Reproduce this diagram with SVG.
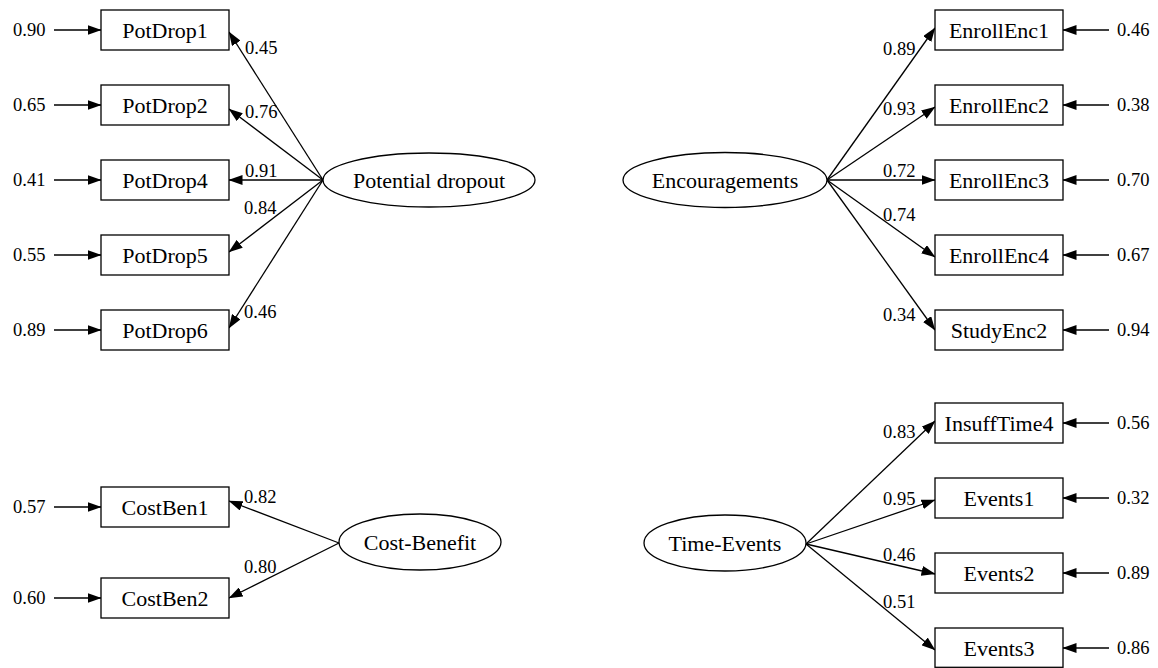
<svg xmlns="http://www.w3.org/2000/svg" width="1158" height="668" viewBox="0 0 1158 668">
<style>
.box{fill:#fff;stroke:#000;stroke-width:1.3}
.ell{fill:#fff;stroke:#000;stroke-width:1.3}
.lbl{font-family:"Liberation Serif","Times New Roman",serif;font-size:22px;fill:#000;text-anchor:middle}
.num{font-family:"Liberation Serif","Times New Roman",serif;font-size:18.5px;fill:#000}
.edge{stroke:#000;stroke-width:1.3;fill:none;marker-end:url(#ah)}
</style>
<defs>
<marker id="ah" markerUnits="userSpaceOnUse" markerWidth="14" markerHeight="10" refX="13.5" refY="5" orient="auto">
<path d="M0,0 L14,5 L0,10 z" fill="#000"/>
</marker>
</defs>
<rect width="1158" height="668" fill="#fff"/>
<g id="connectors">
<line class="edge" x1="323" y1="180" x2="229" y2="32"/>
<line class="edge" x1="323" y1="180" x2="229" y2="109"/>
<line class="edge" x1="323" y1="180" x2="229" y2="180"/>
<line class="edge" x1="323" y1="180" x2="229" y2="252"/>
<line class="edge" x1="323" y1="180" x2="229" y2="328"/>
<line class="edge" x1="827" y1="180" x2="935" y2="28"/>
<line class="edge" x1="827" y1="180" x2="935" y2="107"/>
<line class="edge" x1="827" y1="180" x2="935" y2="180"/>
<line class="edge" x1="827" y1="180" x2="935" y2="257"/>
<line class="edge" x1="827" y1="180" x2="935" y2="330"/>
<line class="edge" x1="339" y1="543" x2="229" y2="501"/>
<line class="edge" x1="339" y1="543" x2="229" y2="598"/>
<line class="edge" x1="806" y1="544" x2="935" y2="421"/>
<line class="edge" x1="806" y1="544" x2="935" y2="500"/>
<line class="edge" x1="806" y1="544" x2="935" y2="574"/>
<line class="edge" x1="806" y1="544" x2="935" y2="650"/>
<line class="edge" x1="54" y1="30" x2="101" y2="30"/>
<line class="edge" x1="54" y1="105" x2="101" y2="105"/>
<line class="edge" x1="54" y1="180" x2="101" y2="180"/>
<line class="edge" x1="54" y1="255" x2="101" y2="255"/>
<line class="edge" x1="54" y1="330" x2="101" y2="330"/>
<line class="edge" x1="54" y1="507" x2="101" y2="507"/>
<line class="edge" x1="54" y1="598" x2="101" y2="598"/>
<line class="edge" x1="1109" y1="30" x2="1063" y2="30"/>
<line class="edge" x1="1109" y1="105" x2="1063" y2="105"/>
<line class="edge" x1="1109" y1="180" x2="1063" y2="180"/>
<line class="edge" x1="1109" y1="255" x2="1063" y2="255"/>
<line class="edge" x1="1109" y1="330" x2="1063" y2="330"/>
<line class="edge" x1="1109" y1="423" x2="1063" y2="423"/>
<line class="edge" x1="1109" y1="498" x2="1063" y2="498"/>
<line class="edge" x1="1109" y1="573" x2="1063" y2="573"/>
<line class="edge" x1="1109" y1="648" x2="1063" y2="648"/>
<text class="num" x="245" y="54">0.45</text>
<text class="num" x="245" y="118">0.76</text>
<text class="num" x="245" y="177">0.91</text>
<text class="num" x="244" y="214">0.84</text>
<text class="num" x="244" y="318">0.46</text>
<text class="num" x="244" y="503">0.82</text>
<text class="num" x="244" y="573">0.80</text>
<text class="num" x="883" y="55">0.89</text>
<text class="num" x="883" y="115">0.93</text>
<text class="num" x="883" y="177">0.72</text>
<text class="num" x="883" y="221">0.74</text>
<text class="num" x="883" y="321">0.34</text>
<text class="num" x="883" y="438">0.83</text>
<text class="num" x="883" y="505">0.95</text>
<text class="num" x="883" y="561">0.46</text>
<text class="num" x="883" y="608">0.51</text>
<text class="num" x="13" y="36">0.90</text>
<text class="num" x="13" y="111">0.65</text>
<text class="num" x="13" y="186">0.41</text>
<text class="num" x="13" y="261">0.55</text>
<text class="num" x="13" y="336">0.89</text>
<text class="num" x="13" y="513">0.57</text>
<text class="num" x="13" y="604">0.60</text>
<text class="num" x="1117" y="36">0.46</text>
<text class="num" x="1117" y="111">0.38</text>
<text class="num" x="1117" y="186">0.70</text>
<text class="num" x="1117" y="261">0.67</text>
<text class="num" x="1117" y="336">0.94</text>
<text class="num" x="1117" y="429">0.56</text>
<text class="num" x="1117" y="504">0.32</text>
<text class="num" x="1117" y="579">0.89</text>
<text class="num" x="1117" y="654">0.86</text>
</g>
<g id="PotDrop1"><rect class="box" x="101" y="10" width="128" height="40"/><text class="lbl" x="165" y="37.5">PotDrop1</text></g>
<g id="PotDrop2"><rect class="box" x="101" y="85" width="128" height="40"/><text class="lbl" x="165" y="112.5">PotDrop2</text></g>
<g id="PotDrop4"><rect class="box" x="101" y="160" width="128" height="40"/><text class="lbl" x="165" y="187.5">PotDrop4</text></g>
<g id="PotDrop5"><rect class="box" x="101" y="235" width="128" height="40"/><text class="lbl" x="165" y="262.5">PotDrop5</text></g>
<g id="PotDrop6"><rect class="box" x="101" y="310" width="128" height="40"/><text class="lbl" x="165" y="337.5">PotDrop6</text></g>
<g id="CostBen1"><rect class="box" x="101" y="487" width="128" height="40"/><text class="lbl" x="165" y="514.5">CostBen1</text></g>
<g id="CostBen2"><rect class="box" x="101" y="578" width="128" height="40"/><text class="lbl" x="165" y="605.5">CostBen2</text></g>
<g id="EnrollEnc1"><rect class="box" x="935" y="10" width="128" height="40"/><text class="lbl" x="999" y="37.5">EnrollEnc1</text></g>
<g id="EnrollEnc2"><rect class="box" x="935" y="85" width="128" height="40"/><text class="lbl" x="999" y="112.5">EnrollEnc2</text></g>
<g id="EnrollEnc3"><rect class="box" x="935" y="160" width="128" height="40"/><text class="lbl" x="999" y="187.5">EnrollEnc3</text></g>
<g id="EnrollEnc4"><rect class="box" x="935" y="235" width="128" height="40"/><text class="lbl" x="999" y="262.5">EnrollEnc4</text></g>
<g id="StudyEnc2"><rect class="box" x="935" y="310" width="128" height="40"/><text class="lbl" x="999" y="337.5">StudyEnc2</text></g>
<g id="InsuffTime4"><rect class="box" x="935" y="403" width="128" height="40"/><text class="lbl" x="999" y="430.5">InsuffTime4</text></g>
<g id="Events1"><rect class="box" x="935" y="478" width="128" height="40"/><text class="lbl" x="999" y="505.5">Events1</text></g>
<g id="Events2"><rect class="box" x="935" y="553" width="128" height="40"/><text class="lbl" x="999" y="580.5">Events2</text></g>
<g id="Events3"><rect class="box" x="935" y="628" width="128" height="39.3"/><text class="lbl" x="999" y="655.5">Events3</text></g>
<g id="PotentialDropout"><ellipse class="ell" cx="429" cy="180" rx="106" ry="27"/><text class="lbl" x="429" y="187.5">Potential dropout</text></g>
<g id="Encouragements"><ellipse class="ell" cx="725" cy="180" rx="102" ry="27.5"/><text class="lbl" x="725" y="187.5">Encouragements</text></g>
<g id="CostBenefit"><ellipse class="ell" cx="420" cy="542" rx="81" ry="28"/><text class="lbl" x="420" y="549.5">Cost-Benefit</text></g>
<g id="TimeEvents"><ellipse class="ell" cx="725" cy="543" rx="81" ry="28"/><text class="lbl" x="725" y="550.5">Time-Events</text></g>
</svg>
